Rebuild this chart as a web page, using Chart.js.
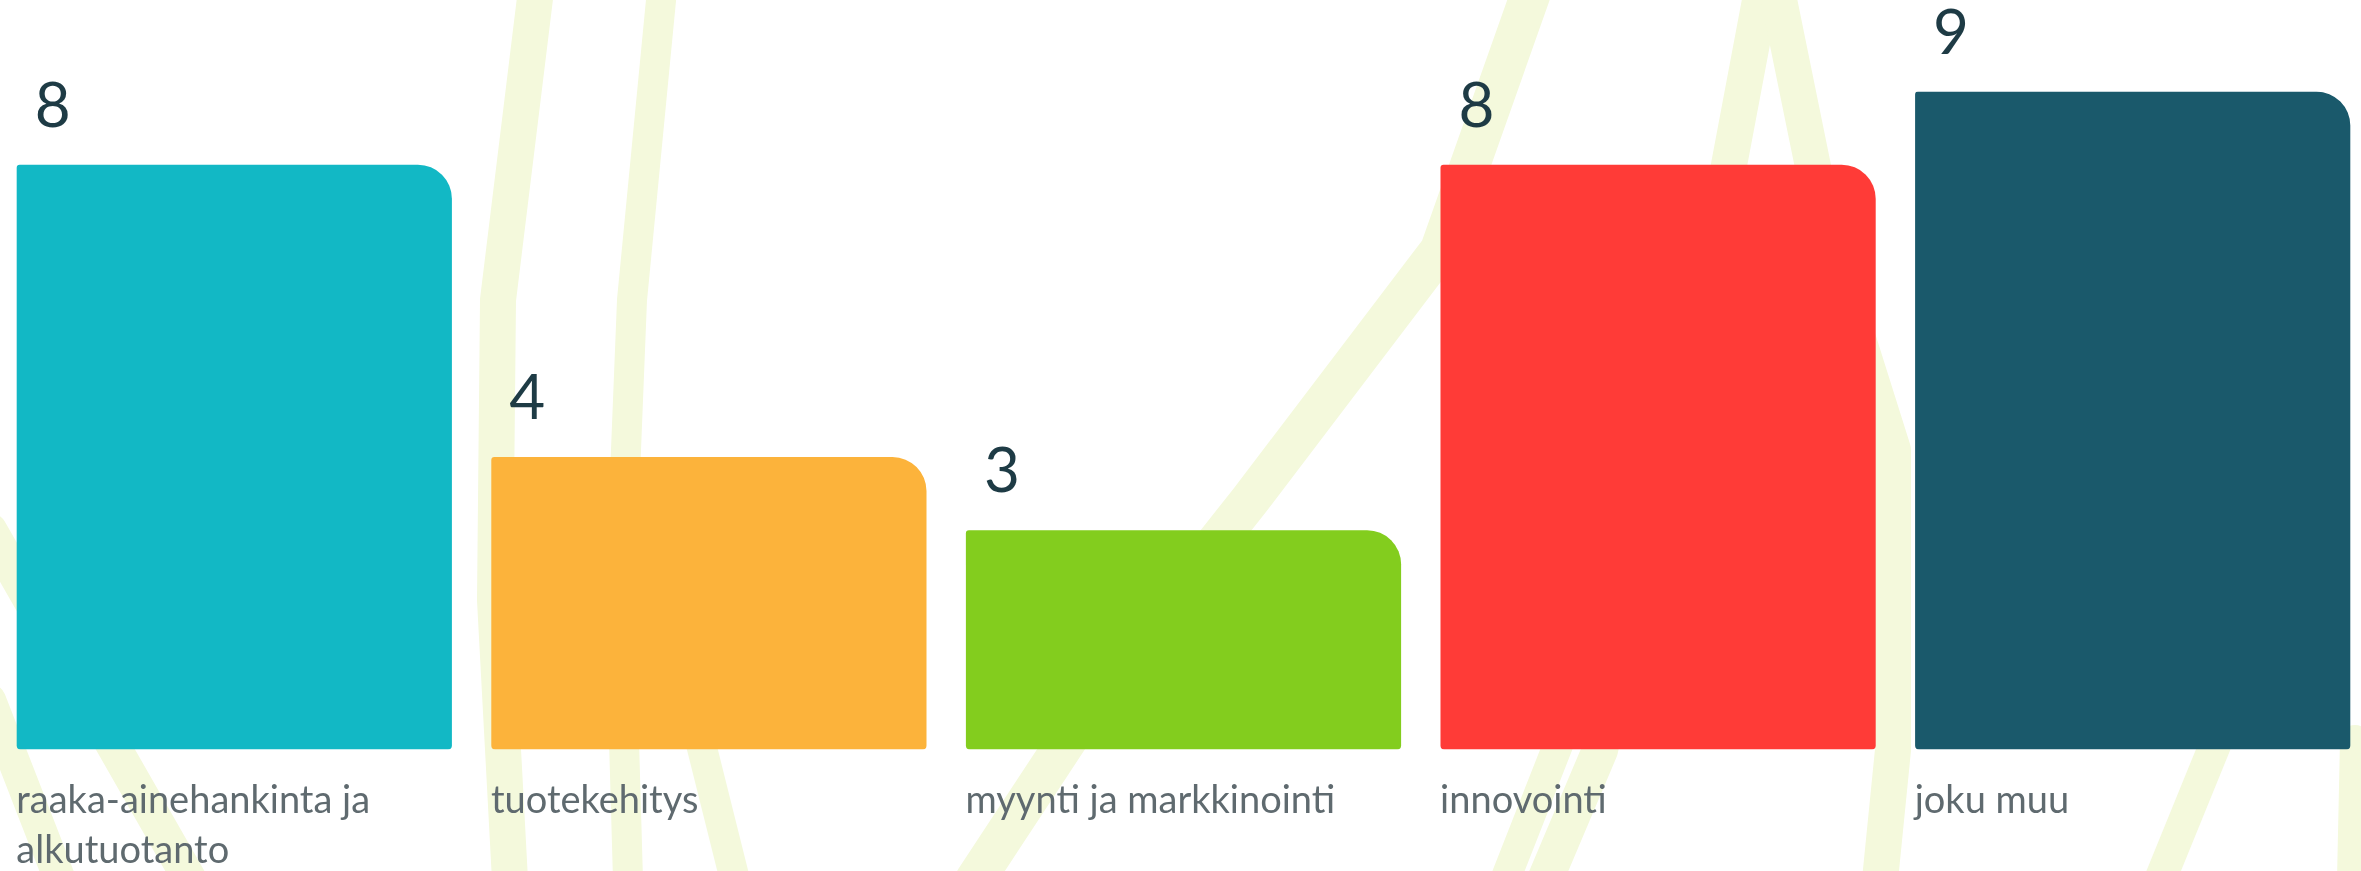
<!DOCTYPE html>
<html>
<head>
<meta charset="utf-8">
<title>Toimiala</title>
<script src="https://cdn.jsdelivr.net/npm/chart.js@4.4.1/dist/chart.umd.min.js"></script>
<style>
    html, body { margin: 0; padding: 0; background: #fff; overflow: hidden; }
    #bg { position: absolute; left: 0; top: 0; }
    #wrap { position: absolute; left: -3px; top: 0; width: 2373px; height: 871px; }
</style>
</head>
<body>
<!-- faint hand-drawn strokes behind the chart -->
<svg id="bg" width="2361" height="871" fill="none" stroke="#f4f9dc" stroke-linecap="round" stroke-linejoin="round">
    <path d="M536,-10 L498,300 L495,600 L510,880" stroke-width="36"/>
    <path d="M662,-10 L632,300 L620,600 L628,880" stroke-width="30"/>
    <path d="M-10,700 L60,880" stroke-width="32"/>
    <path d="M-10,530 L190,880" stroke-width="34"/>
    <path d="M700,740 L735,880" stroke-width="30"/>
    <path d="M1532,-10 L1440,250 L1250,500 L1100,690 L975,880" stroke-width="40"/>
    <path d="M1762,-10 L1713,250 L1600,750 L1545,880" stroke-width="36"/>
    <path d="M1505,880 L1560,740" stroke-width="30"/>
    <path d="M1777,-10 L1830,250 L1893,450 L1893,750 L1880,880" stroke-width="36"/>
    <path d="M2160,880 L2215,745" stroke-width="32"/>
    <path d="M2355,740 L2352,880" stroke-width="30"/>
</svg>
<div id="wrap"><canvas id="barChart"></canvas></div>
<script>
const ctx = document.getElementById('barChart').getContext('2d');

// Chart data
const categories = [['raaka-ainehankinta ja', 'alkutuotanto'], 'tuotekehitys', 'myynti ja markkinointi', 'innovointi', 'joku muu'];
const counts = [8, 4, 3, 8, 9];
const barColors = ['#12b8c5', '#fcb33b', '#83cd1e', '#ff3b37', '#1a596b'];
const yMax = 9;

// Draw the count above each bar, left aligned with the bar
const valueLabels = {
    id: 'valueLabels',
    afterDatasetsDraw(chart) {
        const c = chart.ctx;
        const meta = chart.getDatasetMeta(0);
        c.save();
        c.font = '400 62px Lato';
        c.fillStyle = '#1e3b45';
        c.textAlign = 'left';
        c.textBaseline = 'alphabetic';
        meta.data.forEach((bar, i) => {
            c.fillText(String(counts[i]), bar.x - bar.width / 2 + 18, bar.y - 38);
        });
        c.restore();
    }
};

const myChart = new Chart(ctx, {
    type: 'bar',
    data: {
        labels: categories,
        datasets: [{
            data: counts,
            backgroundColor: barColors,
            borderWidth: 0,
            borderSkipped: false,
            borderRadius: { topLeft: 3, topRight: 34, bottomLeft: 4, bottomRight: 4 },
            categoryPercentage: 1,
            barPercentage: 0.917
        }]
    },
    options: {
        responsive: true,
        maintainAspectRatio: false,
        animation: false,
        devicePixelRatio: 1,
        layout: { padding: { top: 91.6, left: 0, right: 0, bottom: 0 } },
        plugins: {
            legend: { display: false },
            tooltip: { enabled: false }
        },
        scales: {
            x: {
                grid: { display: false, drawTicks: false },
                border: { display: false },
                ticks: {
                    align: 'start',
                    labelOffset: -218,
                    padding: 27,
                    autoSkip: false,
                    maxRotation: 0,
                    minRotation: 0,
                    color: '#5f6a6f',
                    font: { family: 'Lato', size: 38, lineHeight: 1.3 }
                },
                afterFit(scale) { scale.height = 121.5; }
            },
            y: {
                display: false,
                min: 0,
                max: yMax
            }
        }
    },
    plugins: [valueLabels]
});
</script>
</body>
</html>
